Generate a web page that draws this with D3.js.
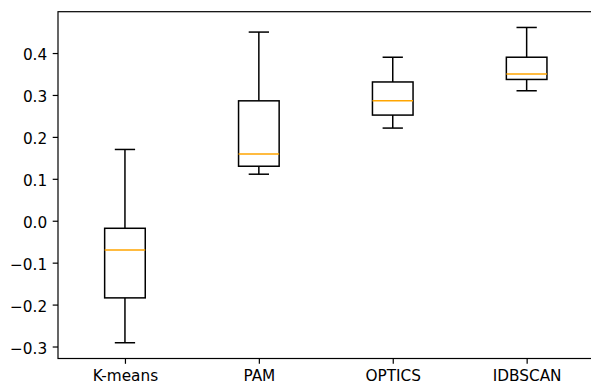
<!DOCTYPE html>
<html>
<head>
<meta charset="utf-8">
<script src="https://cdn.jsdelivr.net/npm/d3@7"></script>
<style>
	body { margin: 0; background: #fff; }
	svg { display: block; }
	.axis text { font-family: "DejaVu Sans", sans-serif; font-size: 15.3px; fill: #000; }
	.axis path, .axis line { stroke: #000; stroke-width: 1.2; }
</style>
</head>
<body>
<svg></svg>
<script>
const categories = ['K-means', 'PAM', 'OPTICS', 'IDBSCAN']
const whiskerHigh = [0.170, 0.450, 0.390, 0.461]
const q3 = [-0.018, 0.286, 0.331, 0.390]
const median = [-0.070, 0.159, 0.286, 0.350]
const q1 = [-0.184, 0.130, 0.252, 0.337]
const whiskerLow = [-0.291, 0.111, 0.221, 0.310]
const yTicks = [-0.3, -0.2, -0.1, 0.0, 0.1, 0.2, 0.3, 0.4]

// axes box, the right edge falls just past the image like in the picture
const margin = {top: 11.7, left: 58},
	width = 535.6,
	height = 346.8;

const svg = d3.select('svg')
	.attr('width', 591)
	.attr('height', 385)
	.append('g')
	.attr('transform', `translate(${margin.left},${margin.top})`)

const x = d3.scalePoint().domain(categories).range([0, width]).padding(0.5)
// matplotlib adds 5% on each side of the data range
const lo = d3.min(whiskerLow), hi = d3.max(whiskerHigh)
const pad = (hi - lo) * 0.05
const y = d3.scaleLinear().domain([lo - pad, hi + pad]).range([height, 0])

const boxW = 40.6, capW = 20.3

const data = categories.map((c, i) => ({
	name: c, hi: whiskerHigh[i], q3: q3[i], med: median[i], q1: q1[i], lo: whiskerLow[i]
}))

const g = svg.selectAll('g.box')
	.data(data).enter()
	.append('g')
	.attr('class', 'box')
	.attr('transform', d => `translate(${x(d.name)},0)`)

// whiskers
g.append('line')
	.attr('y1', d => y(d.q3)).attr('y2', d => y(d.hi))
	.attr('stroke', '#000').attr('stroke-width', 1.5)
g.append('line')
	.attr('y1', d => y(d.q1)).attr('y2', d => y(d.lo))
	.attr('stroke', '#000').attr('stroke-width', 1.5)
// caps
g.append('line')
	.attr('x1', -capW / 2).attr('x2', capW / 2)
	.attr('y1', d => y(d.hi)).attr('y2', d => y(d.hi))
	.attr('stroke', '#000').attr('stroke-width', 1.5)
g.append('line')
	.attr('x1', -capW / 2).attr('x2', capW / 2)
	.attr('y1', d => y(d.lo)).attr('y2', d => y(d.lo))
	.attr('stroke', '#000').attr('stroke-width', 1.5)
// box
g.append('rect')
	.attr('x', -boxW / 2).attr('width', boxW)
	.attr('y', d => y(d.q3))
	.attr('height', d => y(d.q1) - y(d.q3))
	.attr('fill', 'none').attr('stroke', '#000').attr('stroke-width', 1.5)
// median
g.append('line')
	.attr('x1', -boxW / 2).attr('x2', boxW / 2)
	.attr('y1', d => y(d.med)).attr('y2', d => y(d.med))
	.attr('stroke', '#ffa500').attr('stroke-width', 1.5)

// spines
svg.append('rect')
	.attr('width', width).attr('height', height)
	.attr('fill', 'none').attr('stroke', '#000').attr('stroke-width', 1.2)

// Add the Y Axis
svg.append('g')
	.attr('class', 'axis')
	.call(d3.axisLeft(y).tickValues(yTicks).tickFormat(d3.format('.1f')).tickSize(5.3).tickPadding(5.5))
	.call(g => g.select('.domain').remove())
	.selectAll('text').attr('dy', '0.44em')

// Add the X Axis
svg.append('g')
	.attr('class', 'axis')
	.attr('transform', `translate(0,${height})`)
	.call(d3.axisBottom(x).tickSize(5.3).tickPadding(5.5))
	.call(g => g.select('.domain').remove())
	.selectAll('text').attr('dy', '0.76em')
</script>
</body>
</html>
